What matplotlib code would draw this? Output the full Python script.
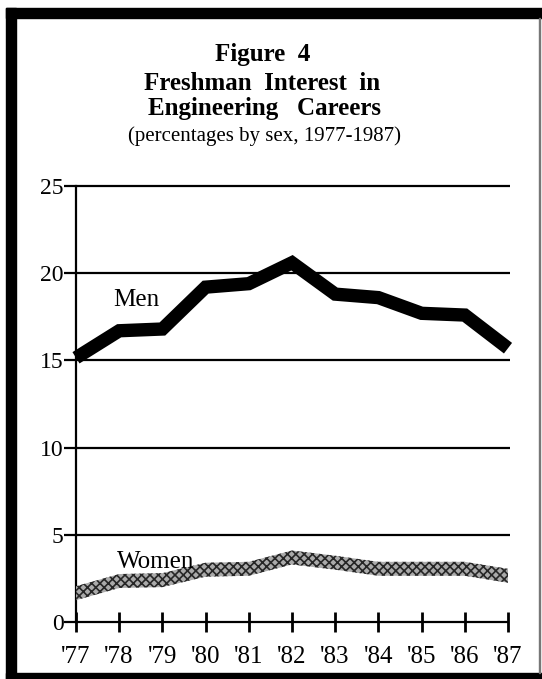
import matplotlib.pyplot as plt
from matplotlib.patches import Rectangle

plt.rcParams['font.family'] = ['Liberation Serif', 'DejaVu Serif']
plt.rcParams['hatch.linewidth'] = 1.2

# datos
years = [1977, 1978, 1979, 1980, 1981, 1982, 1983, 1984, 1985, 1986, 1987]
year_labels = ["'77", "'78", "'79", "'80", "'81", "'82", "'83", "'84", "'85", "'86", "'87"]
men = [15.15, 16.7, 16.8, 19.2, 19.4, 20.6, 18.8, 18.6, 17.7, 17.6, 15.7]
women = [1.65, 2.35, 2.4, 3.0, 3.05, 3.7, 3.4, 3.05, 3.05, 3.05, 2.65]
yticks = [0, 5, 10, 15, 20, 25]

W, H = 542, 679
fig = plt.figure(figsize=(W / 100, H / 100), dpi=100)
fig.patch.set_facecolor('white')

# marco negro del recorte original
fig.add_artist(Rectangle((6 / W, 0), 10 / W, 1 - 8 / H, transform=fig.transFigure, color='black'))
fig.add_artist(Rectangle((6 / W, 1 - 18 / H), 1 - 6 / W, 10 / H, transform=fig.transFigure, color='black'))
fig.add_artist(Rectangle((6 / W, 0), 1 - 6 / W, 6 / H, transform=fig.transFigure, color='black'))
fig.add_artist(Rectangle((539 / W, 6 / H), 1.2 / W, 1 - 24 / H, transform=fig.transFigure, color='#777777'))

# titulo
fig.text(263 / W, 1 - 55 / H, 'Figure  4', ha='center', va='center', fontsize=18, fontweight='bold')
fig.text(262 / W, 1 - 83 / H, 'Freshman  Interest  in', ha='center', va='center', fontsize=18, fontweight='bold')
fig.text(264 / W, 1 - 108 / H, 'Engineering   Careers', ha='center', va='center', fontsize=18, fontweight='bold')
fig.text(265 / W, 1 - 136 / H, '(percentages by sex, 1977-1987)', ha='center', va='center', fontsize=15)

ax = fig.add_axes([76 / W, (H - 622) / H, 432 / W, 436 / H])
ax.set_xlim(1977, 1987)
ax.set_ylim(0, 25)

# lineas horizontales
ax.hlines(yticks[1:], 1977, 1987.05, colors='black', linewidth=1.6, clip_on=False, zorder=1)

# hombres: linea gruesa negra
ax.plot(years, men, color='black', linewidth=9.6, solid_joinstyle='miter',
        solid_capstyle='butt', clip_on=False, zorder=3)

# mujeres: banda con trama gris
wlo = [v - 0.4 for v in women]
whi = [v + 0.4 for v in women]
ax.fill_between(years, wlo, whi, facecolor='#aaaaaa', edgecolor='#262626',
                hatch='xxxx', linewidth=0, clip_on=False, zorder=3)

ax.text(1978.40, 18.45, 'Men', ha='center', va='center', fontsize=18, zorder=4)
ax.text(1977.95, 3.1, 'Women', ha='left', va='baseline', fontsize=18, zorder=4)

for s in ['top', 'right']:
    ax.spines[s].set_visible(False)
ax.spines['left'].set_linewidth(1.6)
ax.spines['bottom'].set_linewidth(1.6)

ax.set_yticks(yticks)
ax.set_yticklabels([str(v) for v in yticks])
ax.set_xticks(years)
ax.set_xticklabels(year_labels)
ax.tick_params(axis='y', direction='out', length=9, width=1.6, pad=0, labelsize=17)
ax.tick_params(axis='x', direction='inout', length=15, width=2, pad=10, labelsize=18)

fig.savefig('out.png', dpi=100)
